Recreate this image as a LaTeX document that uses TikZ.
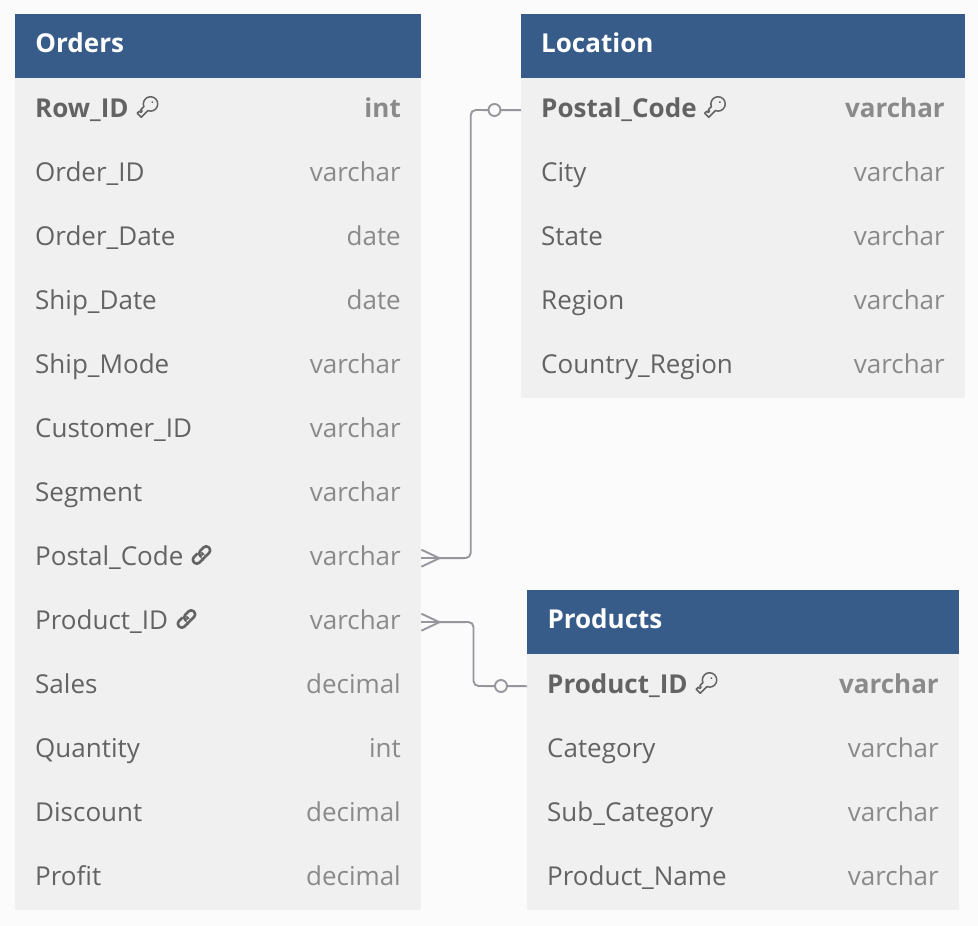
\documentclass[tikz,border=0pt]{standalone}
\usepackage{fontspec}
\setmainfont{Open Sans}
\definecolor{pagebg}{HTML}{FBFBFB}
\definecolor{headblue}{HTML}{375C89}
\definecolor{bodygrey}{HTML}{F0F0F0}
\definecolor{fieldtext}{HTML}{636363}
\definecolor{typetext}{HTML}{8A8A8A}
\definecolor{linkgrey}{HTML}{96969E}
\newcommand{\fieldfont}{\fontsize{26.1}{30}\selectfont}
\tikzset{
  x=1bp,y=-1bp,
  headbox/.style={fill=headblue,draw=none,inner sep=0pt,anchor=north west,minimum height=64bp},
  rowbox/.style={fill=bodygrey,draw=none,inner sep=0pt,anchor=north west,minimum height=64bp},
  headtxt/.style={text=white,font=\fieldfont\bfseries,anchor=base west,inner sep=0pt},
  fieldtxt/.style={text=fieldtext,font=\fieldfont,anchor=base west,inner sep=0pt},
  typetxt/.style={text=typetext,font=\fieldfont,anchor=base east,inner sep=0pt},
  pkfield/.style={text=fieldtext,font=\fieldfont\bfseries,anchor=base west,inner sep=0pt},
  pktype/.style={text=typetext,font=\fieldfont\bfseries,anchor=base east,inner sep=0pt},
  connector/.style={draw=linkgrey,line width=1.9bp,rounded corners=5bp},
  crowfoot/.style={draw=linkgrey,line width=1.9bp},
  optcircle/.style={circle,draw=linkgrey,line width=1.9bp,fill=pagebg,minimum size=12bp,inner sep=0pt},
  iconline/.style={draw=fieldtext,line width=1.5bp,line join=round}
}
% #1 name, #2 left, #3 width, #4 top, #5 label style, #6 label, #7 type style, #8 type
\newcommand{\fieldrow}[8]{%
  \node[rowbox,minimum width=#3bp] (#1) at (#2,#4) {};
  \node[#5] (#1-label) at (#2+20,#4+39) {#6};
  \node[#7] (#1-type) at (#2+#3-20,#4+39) {#8};
}
\newcommand{\keyicon}[2]{%
  \begin{scope}[shift={(#1,#2)},rotate=45,y=1bp]
    \draw[iconline] (-1.6,-2.8) arc[start angle=-157,end angle=157,radius=7.2] -- (-4,2.8) -- (-6,2.8) -- (-6,0.8) -- (-8,0.8) -- (-8,2.8) -- (-11,2.8) -- (-11,-2.8) -- cycle;
    \fill[fieldtext] (7.6,0) circle[radius=1];
  \end{scope}%
}
\newcommand{\linkicon}[2]{%
  \begin{scope}[shift={(#1,#2)},rotate=45,y=1bp]
    \draw[iconline,line width=2.6bp,rounded corners=3.5bp] (-10.5,-3.9) rectangle (1.5,3.9);
    \draw[bodygrey,line width=5bp] (-1.5,3.9) -- (1.5,3.9);
    \draw[iconline,line width=2.6bp,rounded corners=3.5bp] (-1.5,-3.9) rectangle (10.5,3.9);
    \draw[bodygrey,line width=5bp] (-1.5,-3.9) -- (1.5,-3.9);
    \draw[iconline,line width=2.6bp] (-3,-3.9) -- (1.5,-3.9);
  \end{scope}%
}
\begin{document}
\begin{tikzpicture}[x=1bp,y=-1bp]
\useasboundingbox[fill=pagebg] (0,0) rectangle (978,926);
% Orders
\node[headbox,minimum width=406bp] (orders) at (15,14) {};
\node[headtxt] (orders-title) at (35.3,52.6) {Orders};
\fieldrow{oRow}{15}{406}{78}{pkfield}{Row\_ID}{pktype}{int}
\fieldrow{oOrder}{15}{406}{142}{fieldtxt}{Order\_ID}{typetxt}{varchar}
\fieldrow{oOdate}{15}{406}{206}{fieldtxt}{Order\_Date}{typetxt}{date}
\fieldrow{oSdate}{15}{406}{270}{fieldtxt}{Ship\_Date}{typetxt}{date}
\fieldrow{oSmode}{15}{406}{334}{fieldtxt}{Ship\_Mode}{typetxt}{varchar}
\fieldrow{oCust}{15}{406}{398}{fieldtxt}{Customer\_ID}{typetxt}{varchar}
\fieldrow{oSeg}{15}{406}{462}{fieldtxt}{Segment}{typetxt}{varchar}
\fieldrow{oPostal}{15}{406}{526}{fieldtxt}{Postal\_Code}{typetxt}{varchar}
\fieldrow{oProd}{15}{406}{590}{fieldtxt}{Product\_ID}{typetxt}{varchar}
\fieldrow{oSales}{15}{406}{654}{fieldtxt}{Sales}{typetxt}{decimal}
\fieldrow{oQty}{15}{406}{718}{fieldtxt}{Quantity}{typetxt}{int}
\fieldrow{oDisc}{15}{406}{782}{fieldtxt}{Discount}{typetxt}{decimal}
\fieldrow{oProfit}{15}{406}{846}{fieldtxt}{Profit}{typetxt}{decimal}
% Location
\node[headbox,minimum width=444bp] (location) at (521,14) {};
\node[headtxt] (location-title) at (541,52.6) {Location};
\fieldrow{lPostal}{521}{444}{78}{pkfield}{Postal\_Code}{pktype}{varchar}
\fieldrow{lCity}{521}{444}{142}{fieldtxt}{City}{typetxt}{varchar}
\fieldrow{lState}{521}{444}{206}{fieldtxt}{State}{typetxt}{varchar}
\fieldrow{lRegion}{521}{444}{270}{fieldtxt}{Region}{typetxt}{varchar}
\fieldrow{lCountry}{521}{444}{334}{fieldtxt}{Country\_Region}{typetxt}{varchar}
% Products
\node[headbox,minimum width=432bp] (products) at (527,590) {};
\node[headtxt] (products-title) at (547.3,628.6) {Products};
\fieldrow{pProd}{527}{432}{654}{pkfield}{Product\_ID}{pktype}{varchar}
\fieldrow{pCat}{527}{432}{718}{fieldtxt}{Category}{typetxt}{varchar}
\fieldrow{pSub}{527}{432}{782}{fieldtxt}{Sub\_Category}{typetxt}{varchar}
\fieldrow{pName}{527}{432}{846}{fieldtxt}{Product\_Name}{typetxt}{varchar}
% Icons
\keyicon{147}{107.5}
\keyicon{714.5}{107.5}
\keyicon{706}{683.5}
\linkicon{201.5}{555}
\linkicon{186.5}{619}
% Connectors
\coordinate (crowA) at ([xshift=18bp]oPostal.east);
\coordinate (crowB) at ([xshift=18bp]oProd.east);
\draw[connector] (crowA) -- (470.7,558) -- (470.7,110) -- (lPostal.west);
\draw[connector] (crowB) -- (473.5,622) -- (473.5,686) -- (pProd.west);
\draw[crowfoot] ([yshift=-8.5bp]oPostal.east) -- (crowA) -- ([yshift=8.5bp]oPostal.east);
\draw[crowfoot] (oPostal.east) -- (crowA);
\draw[crowfoot] ([yshift=-8.5bp]oProd.east) -- (crowB) -- ([yshift=8.5bp]oProd.east);
\draw[crowfoot] (oProd.east) -- (crowB);
\node[optcircle] (circleA) at (494.5,110) {};
\node[optcircle] (circleB) at (501,686) {};
\end{tikzpicture}
\end{document}
